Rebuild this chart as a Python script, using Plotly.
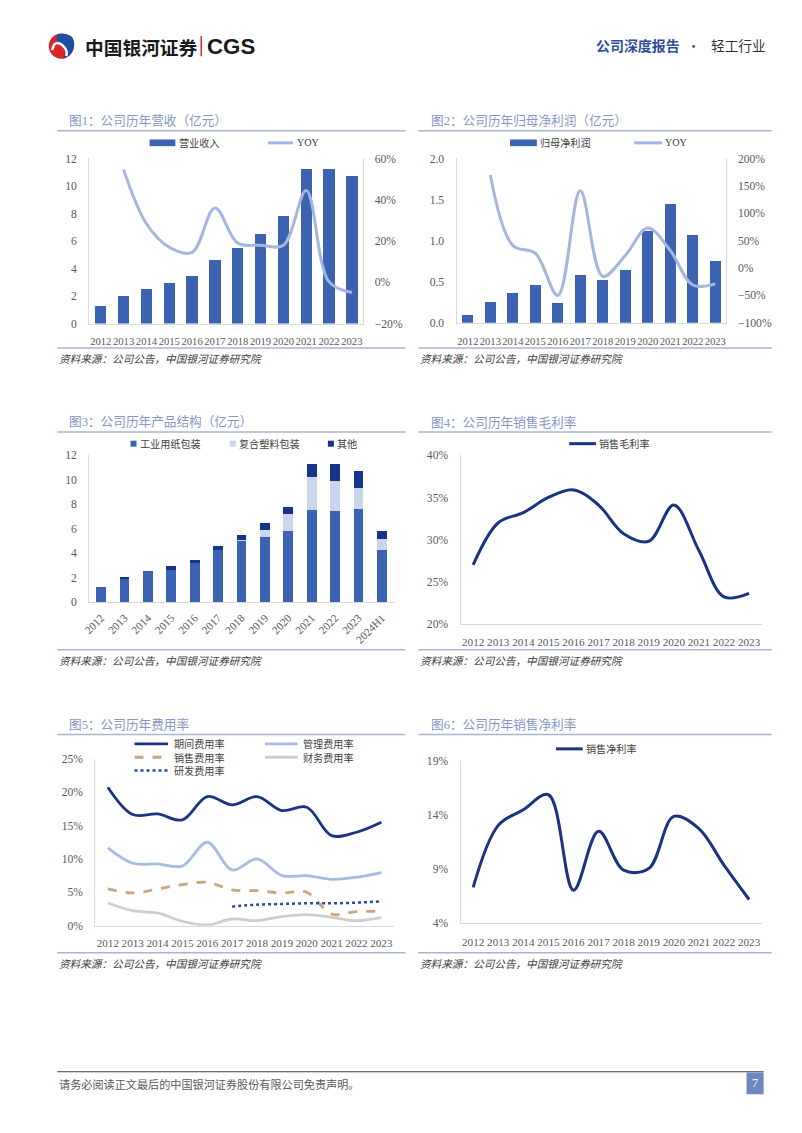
import plotly.graph_objects as go

# Observed rendering transform of the capture: screen = O + S * figure_px
OX, OY, S = 7.9, 5.9, 0.988
W = int(round((802 - OX) / S))
H = int(round((1133 - OY) / S))

# ---------------- data ----------------
years = ['2012', '2013', '2014', '2015', '2016', '2017', '2018', '2019', '2020', '2021', '2022', '2023']
years3 = years + ['2024H1']

revenue = [1.28, 1.99, 2.55, 2.98, 3.44, 4.61, 5.53, 6.50, 7.81, 11.25, 11.27, 10.72]
revenue_yoy = [None, 0.546, 0.284, 0.17, 0.145, 0.36, 0.19, 0.18, 0.18, 0.445, 0.002, -0.049]

netprofit = [0.10, 0.256, 0.366, 0.459, 0.244, 0.581, 0.52, 0.642, 1.118, 1.451, 1.065, 0.756]
netprofit_yoy = [None, 1.70, 0.41, 0.27, -0.50, 1.41, -0.15, 0.23, 0.73, 0.32, -0.31, -0.29]

paper_pack = [1.28, 1.92, 2.52, 2.67, 3.22, 4.28, 4.97, 5.32, 5.78, 7.50, 7.42, 7.64, 4.28]
plastic_pack = [0, 0, 0, 0, 0, 0, 0.13, 0.62, 1.39, 2.73, 2.48, 1.69, 0.85]
other_prod = [0, 0.07, 0, 0.31, 0.20, 0.35, 0.35, 0.52, 0.60, 1.03, 1.36, 1.36, 0.65]

gross_margin = [0.270, 0.320, 0.332, 0.350, 0.359, 0.341, 0.307, 0.298, 0.341, 0.287, 0.232, 0.236]

period_exp = [0.2075, 0.1665, 0.1675, 0.1585, 0.1935, 0.181, 0.1935, 0.1725, 0.1775, 0.135, 0.140, 0.155]
admin_exp = [0.1165, 0.0935, 0.0925, 0.0895, 0.125, 0.0835, 0.100, 0.075, 0.075, 0.0695, 0.0725, 0.0795]
sales_exp = [0.055, 0.049, 0.055, 0.0615, 0.065, 0.0535, 0.0525, 0.049, 0.050, 0.0175, 0.021, 0.0215]
fin_exp = [0.034, 0.0225, 0.019, 0.0065, 0.001, 0.010, 0.0075, 0.0135, 0.0165, 0.0125, 0.0075, 0.0125]
rd_exp = [None, None, None, None, None, 0.0285, 0.0315, 0.0325, 0.0335, 0.0335, 0.0345, 0.0365]

net_margin = [0.0731, 0.1303, 0.1447, 0.1585, 0.0706, 0.1248, 0.089, 0.0905, 0.1386, 0.1273, 0.0936, 0.062]

# ---------------- styles ----------------
C_BAR = '#3B63B1'
C_YOY = '#A3B6DF'
C_LIGHT = '#C9D6EE'
C_DARK = '#16348B'
C_NAVY = '#1C3384'
C_ADMIN = '#A8BBE3'
C_SALES = '#C9A57B'
C_FIN = '#CDCDCD'
C_RD = '#2B4BA0'
C_TITLE = '#8597C5'
C_RULE = '#A9B5CF'
C_AXIS = '#D9D9D9'
SERIF = 'Liberation Serif, Noto Sans CJK SC'
CJK = 'Noto Sans CJK SC'


def fs(size):
    return size / S


def tfont(size):
    return dict(family=SERIF, size=fs(size), color='#595959')


# page pixel -> paper fraction
def px(x):
    return ((x - OX) / S) / W


def py(y):
    return 1 - ((y - OY) / S) / H


def xdom(a, b):
    return [px(a), px(b)]


def ydom(top, bottom):
    return [py(bottom), py(top)]


def xcat(a, b, anchor, n=12, angle=0, size=11, tl=8):
    return dict(domain=xdom(a, b), anchor=anchor, type='category', range=[-0.5, n - 0.5],
                showgrid=False, zeroline=False, showline=True, linecolor=C_AXIS, linewidth=1,
                ticks='outside', ticklen=tl / S, tickcolor='rgba(0,0,0,0)', tickfont=tfont(size),
                tickangle=angle, fixedrange=True)


def yax(top, bottom, anchor, rng, dtick, fmt, tick0=None, side='left', overlay=None):
    d = dict(anchor=anchor, range=rng, dtick=dtick, tickformat=fmt,
             showgrid=False, zeroline=False, showline=True, linecolor=C_AXIS, linewidth=1,
             ticks='outside', ticklen=(9 if side == 'left' else 8) / S, tickcolor='rgba(0,0,0,0)',
             tickfont=tfont(11.5), side=side, fixedrange=True)
    if overlay:
        d['overlaying'] = overlay
    else:
        d['domain'] = ydom(top, bottom)
    if tick0 is not None:
        d['tick0'] = tick0
    return d


fig = go.Figure()

# Chart 1
fig.add_trace(go.Bar(x=years, y=revenue, name='营业收入', marker=dict(color=C_BAR, line=dict(width=0)),
                     width=0.5, xaxis='x', yaxis='y', showlegend=False))
fig.add_trace(go.Scatter(x=years, y=revenue_yoy, name='YOY', mode='lines',
                         line=dict(color=C_YOY, width=3, shape='spline', smoothing=1),
                         xaxis='x', yaxis='y2', showlegend=False))
# Chart 2
fig.add_trace(go.Bar(x=years, y=netprofit, name='归母净利润', marker=dict(color=C_BAR, line=dict(width=0)),
                     width=0.49, xaxis='x2', yaxis='y3', showlegend=False))
fig.add_trace(go.Scatter(x=years, y=netprofit_yoy, name='YOY', mode='lines',
                         line=dict(color=C_YOY, width=3, shape='spline', smoothing=1),
                         xaxis='x2', yaxis='y4', showlegend=False))
# Chart 3
for vals, col, nm in [(paper_pack, C_BAR, '工业用纸包装'), (plastic_pack, C_LIGHT, '复合塑料包装'),
                      (other_prod, C_DARK, '其他')]:
    fig.add_trace(go.Bar(x=years3, y=vals, name=nm, marker=dict(color=col, line=dict(width=0)),
                         width=0.42, xaxis='x3', yaxis='y5', showlegend=False))
# Chart 4
fig.add_trace(go.Scatter(x=years, y=gross_margin, name='销售毛利率', mode='lines',
                         line=dict(color=C_NAVY, width=3, shape='spline', smoothing=1),
                         xaxis='x4', yaxis='y6', showlegend=False))
# Chart 5
for vals, col, dash, wd, nm in [(period_exp, C_NAVY, 'solid', 2.8, '期间费用率'),
                                (admin_exp, C_ADMIN, 'solid', 2.8, '管理费用率'),
                                (sales_exp, C_SALES, 'dash', 2.8, '销售费用率'),
                                (fin_exp, C_FIN, 'solid', 2.8, '财务费用率'),
                                (rd_exp, C_RD, 'dot', 2.5, '研发费用率')]:
    fig.add_trace(go.Scatter(x=years, y=vals, name=nm, mode='lines',
                             line=dict(color=col, width=wd, dash=dash, shape='spline', smoothing=1),
                             xaxis='x5', yaxis='y7', showlegend=False))
# Chart 6
fig.add_trace(go.Scatter(x=years, y=net_margin, name='销售净利率', mode='lines',
                         line=dict(color=C_NAVY, width=3, shape='spline', smoothing=1),
                         xaxis='x6', yaxis='y8', showlegend=False))

layout = dict(
    width=W, height=H, margin=dict(l=0, r=0, t=0, b=0),
    paper_bgcolor='white', plot_bgcolor='rgba(0,0,0,0)',
    barmode='stack', showlegend=False, hovermode=False,
    xaxis=xcat(90, 363, 'y', size=10.5),
    yaxis=yax(158.3, 323.3, 'x', [0, 12], 2, 'd'),
    yaxis2=yax(None, None, 'x', [-0.2, 0.6], 0.2, '.0%', side='right', overlay='y'),
    xaxis2=xcat(456, 725, 'y3', size=10.5),
    yaxis3=yax(158.3, 322.5, 'x2', [0, 2], 0.5, '.1f'),
    yaxis4=yax(None, None, 'x2', [-1, 2], 0.5, '.0%', side='right', overlay='y3'),
    xaxis3=xcat(90, 393.3, 'y5', n=13, angle=-45, tl=4),
    yaxis5=yax(455, 601.7, 'x3', [0, 12], 2, 'd'),
    xaxis4=xcat(460, 760, 'y6'),
    yaxis6=yax(455, 623.3, 'x4', [0.2, 0.4], 0.05, '.0%'),
    xaxis5=xcat(96, 393.4, 'y7', tl=7),
    yaxis7=yax(758.3, 925, 'x5', [0, 0.25], 0.05, '.0%'),
    xaxis6=xcat(460, 760, 'y8'),
    yaxis8=yax(760, 922.7, 'x6', [0.04, 0.19], 0.05, '.0%', tick0=0.04),
)
fig.update_layout(**layout)

shapes = []
annots = []


def hline(x0, x1, y, color, width):
    shapes.append(dict(type='line', xref='paper', yref='paper', x0=px(x0), x1=px(x1), y0=py(y), y1=py(y),
                       line=dict(color=color, width=width)))


def rect(x0, y0, x1, y1, color):
    shapes.append(dict(type='rect', xref='paper', yref='paper', x0=px(x0), x1=px(x1), y0=py(y0), y1=py(y1),
                       fillcolor=color, line=dict(width=0)))


def text(x, y, s, size=11, color='#404040', family=CJK, anchor='left', bold=False, italic=False):
    if bold:
        s = '<b>' + s + '</b>'
    if italic:
        s = '<i>' + s + '</i>'
    annots.append(dict(xref='paper', yref='paper', x=px(x), y=py(y), text=s, showarrow=False,
                       xanchor=anchor, yanchor='middle', font=dict(family=family, size=fs(size), color=color)))


def legline(x0, x1, y, color, width=3, dash='solid'):
    shapes.append(dict(type='line', xref='paper', yref='paper', x0=px(x0), x1=px(x1), y0=py(y), y1=py(y),
                       line=dict(color=color, width=width, dash=dash)))


# page border (right edge)
shapes.append(dict(type='line', xref='paper', yref='paper', x0=px(801), x1=px(801), y0=0, y1=1,
                   line=dict(color='#9A9A9A', width=1)))

# header logo (approximation)
cx, cy, r = 62, 46, 12.5
shapes.append(dict(type='circle', xref='paper', yref='paper', x0=px(cx - r), x1=px(cx + r),
                   y0=py(cy + r), y1=py(cy - r), fillcolor='#D9262E', line=dict(width=0)))


def P(x, y):
    return f'{px(x)},{py(y)}'


blue_path = ('M ' + P(cx - 4, cy - r + 0.5) + ' Q ' + P(cx + r + 3, cy - r - 2) + ' ' + P(cx + r, cy + 2) +
             ' Q ' + P(cx + r - 3, cy + r - 2) + ' ' + P(cx + 2, cy + r) +
             ' Q ' + P(cx + 7, cy + 3) + ' ' + P(cx - 1, cy - 1) + ' Q ' + P(cx - 6, cy - 6) + ' ' + P(cx - 4, cy - r + 0.5) + ' Z')
shapes.append(dict(type='path', xref='paper', yref='paper', path=blue_path, fillcolor='#1E4EA1', line=dict(width=0)))
s_path = ('M ' + P(cx - 9, cy + 4) + ' Q ' + P(cx - 7, cy - 7) + ' ' + P(cx + 1, cy - 1) +
          ' Q ' + P(cx + 7, cy + 4) + ' ' + P(cx + 5, cy + 10))
shapes.append(dict(type='path', xref='paper', yref='paper', path=s_path, line=dict(color='white', width=2.5)))

text(84, 46, '中国银河证券', size=18.5, color='#1A1A1A', family=CJK, bold=True)
shapes.append(dict(type='line', xref='paper', yref='paper', x0=px(201.5), x1=px(201.5), y0=py(36), y1=py(56),
                   line=dict(color='#D9262E', width=1.5)))
text(205, 46, 'CGS', size=22, color='#1A1A1A', family='Liberation Sans, Arial', bold=True)
text(593, 45, '公司深度报告', size=13.8, color='#2F4E9A', family=CJK, bold=True)
text(692, 45, '•', size=13, color='#2F4E9A', family=CJK, anchor='center')
text(708, 45, '轻工行业', size=13.5, color='#333333', family=CJK)

# section frames
sections = [
    (58, 405, 120.5, 130.5, 347.7, 358, '图1：公司历年营收（亿元）'),
    (418, 770, 120.5, 130.5, 347.7, 358, '图2：公司历年归母净利润（亿元）'),
    (58, 405, 421.7, 431.7, 649.3, 660, '图3：公司历年产品结构（亿元）'),
    (418, 770, 421.7, 431.7, 649.3, 660, '图4：公司历年销售毛利率'),
    (58, 405, 723.5, 734, 952, 963, '图5：公司历年费用率'),
    (418, 770, 723.5, 734, 952, 963, '图6：公司历年销售净利率'),
]
for x0, x1, ty, ly, by, sy, title in sections:
    text(x0 + 10, ty, title, size=12.5, color=C_TITLE, family=SERIF)
    hline(x0, x1, ly, C_RULE, 1.5)
    hline(x0, x1, by, C_RULE, 1.5)
    text(x0, sy, '资料来源：公司公告，中国银河证券研究院', size=10.5, color='#404040', family=CJK, italic=True)

LEGSZ = 10
# legend chart 1
rect(150, 139.3, 175.7, 146, C_BAR)
text(177, 142.7, '营业收入', size=LEGSZ, color='#404040')
legline(268, 293, 142.7, C_YOY, 3)
text(295, 142.7, 'YOY', size=LEGSZ, color='#404040', family=SERIF)
# legend chart 2
rect(509.3, 139.3, 536, 146, C_BAR)
text(537, 142.7, '归母净利润', size=LEGSZ, color='#404040')
legline(633, 661, 142.7, C_YOY, 3)
text(662, 142.7, 'YOY', size=LEGSZ, color='#404040', family=SERIF)
# legend chart 3
for sx, col, nm in [(131, C_BAR, '工业用纸包装'), (230, C_LIGHT, '复合塑料包装'), (327.7, C_DARK, '其他')]:
    rect(sx, 440.3, sx + 6, 446.3, col)
    text(sx + 7, 443.3, nm, size=LEGSZ, color='#404040')
# legend chart 4
legline(568.3, 595, 443.3, C_NAVY, 3)
text(596, 443.3, '销售毛利率', size=LEGSZ, color='#404040')
# legend chart 5
legline(135, 168.3, 743.3, C_NAVY, 2.8)
text(172.5, 743.3, '期间费用率', size=LEGSZ, color='#404040')
legline(265, 297.7, 743.3, C_ADMIN, 2.8)
text(301, 743.3, '管理费用率', size=LEGSZ, color='#404040')
legline(135, 168.3, 756.7, C_SALES, 2.8, 'dash')
text(172.5, 756.7, '销售费用率', size=LEGSZ, color='#404040')
legline(265, 297.7, 756.7, C_FIN, 2.8)
text(301, 756.7, '财务费用率', size=LEGSZ, color='#404040')
legline(135, 168.3, 770, C_RD, 2.5, 'dot')
text(172.5, 770, '研发费用率', size=LEGSZ, color='#404040')
# legend chart 6
legline(555, 581.7, 748.3, C_NAVY, 3)
text(583, 748.3, '销售净利率', size=LEGSZ, color='#404040')

# footer
hline(58, 762, 1071, '#404040', 1.2)
text(58, 1083, '请务必阅读正文最后的中国银河证券股份有限公司免责声明。', size=11, color='#595959', family=CJK)
rect(745, 1071.7, 762, 1093.5, '#6D88BE')
text(753.5, 1082.5, '7', size=12, color='white', family=SERIF, anchor='center')

fig.update_layout(shapes=shapes, annotations=annots)
fig.write_html('out.html')
